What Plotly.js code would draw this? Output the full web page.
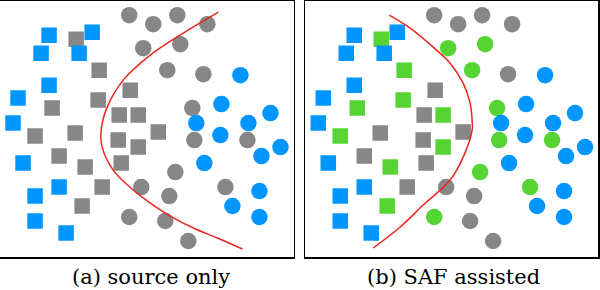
<!DOCTYPE html>
<html>
<head>
<meta charset="utf-8">
<script src="https://cdn.plot.ly/plotly-3.0.1.min.js"></script>
<style>html,body{margin:0;padding:0;background:#fff;}#chart{width:600px;height:290px;}</style>
</head>
<body>
<div id="chart"></div>
<script>
// Embedding coordinates (shared by both panels)
const sourceSquaresX = [49, 92, 41, 79, 49, 18, 13, 23, 35, 59, 35, 66];
const sourceSquaresY = [222, 225, 204, 204, 172, 159, 134, 94, 61, 70, 36, 24];
const targetSquaresX = [76, 99, 52, 98, 130, 138, 119, 35, 75, 59, 118, 121, 102, 158, 85, 82, 138];
const targetSquaresY = [218, 187, 149, 157, 167, 142, 142, 121, 124, 101, 117, 94, 70, 125, 90, 51, 110];
const targetSquaresAligned = [1, 1, 1, 1, 0, 1, 0, 1, 0, 0, 0, 0, 0, 0, 1, 1, 1];
const sourceCirclesX = [240, 221, 270, 196, 248, 220, 280, 261, 204, 259, 232, 259];
const sourceCirclesY = [182, 153, 144, 134, 134, 122, 110, 101, 94, 66, 51, 40];
const targetCirclesX = [129, 153, 177, 207, 203, 141, 169, 165, 188, 143, 180, 167, 192, 129, 194, 247, 175, 225];
const targetCirclesY = [242, 233, 242, 233, 183, 70, 61, 36, 16, 209, 213, 187, 149, 40, 117, 117, 85, 70];
const targetCirclesAligned = [0, 0, 0, 0, 0, 0, 0, 0, 0, 1, 1, 1, 1, 1, 1, 1, 1, 1];
// Decision boundaries
const boundaryAX = [218, 183, 150, 123, 107, 101, 102, 113, 133, 150, 170, 193, 217, 242];
const boundaryAY = [245, 224, 202, 177, 150, 127, 110, 87, 67, 54, 41, 29, 19, 8];
const boundaryBX = [84, 105, 128, 145, 158, 165, 167, 167, 158, 145, 118, 95, 68];
const boundaryBY = [242, 229, 210, 194, 174, 154, 137, 127, 100, 77, 52, 30, 9];
const captions = ["(a) source only", "(b) SAF assisted"];

const BLUE = "#0096ff", GRAY = "#878787", GREEN = "#56d433", RED = "#e8261e";

function pick(arr, flags, v) { return arr.filter((_, i) => flags[i] === v); }
function pts(x, y, sym, color, size, xa, ya) {
  return {type: "scatter", mode: "markers", x: x, y: y, xaxis: xa, yaxis: ya,
    marker: {symbol: sym, color: color, size: size, line: {width: 0}}, hoverinfo: "skip"};
}
const SQ = 15.5, CI = 16.5;
const traces = [
  // panel a: no alignment
  pts(targetSquaresX, targetSquaresY, "square", GRAY, SQ, "x", "y"),
  pts(targetCirclesX, targetCirclesY, "circle", GRAY, CI, "x", "y"),
  pts(sourceSquaresX, sourceSquaresY, "square", BLUE, SQ, "x", "y"),
  pts(sourceCirclesX, sourceCirclesY, "circle", BLUE, CI, "x", "y"),
  {type: "scatter", mode: "lines", x: boundaryAX, y: boundaryAY, xaxis: "x", yaxis: "y",
    line: {color: RED, width: 1.5, shape: "spline"}, hoverinfo: "skip"},
  // panel b: SAF assisted
  pts(pick(targetSquaresX, targetSquaresAligned, 0), pick(targetSquaresY, targetSquaresAligned, 0), "square", GRAY, SQ, "x2", "y2"),
  pts(pick(targetCirclesX, targetCirclesAligned, 0), pick(targetCirclesY, targetCirclesAligned, 0), "circle", GRAY, CI, "x2", "y2"),
  pts(pick(targetSquaresX, targetSquaresAligned, 1), pick(targetSquaresY, targetSquaresAligned, 1), "square", GREEN, SQ, "x2", "y2"),
  pts(pick(targetCirclesX, targetCirclesAligned, 1), pick(targetCirclesY, targetCirclesAligned, 1), "circle", GREEN, CI, "x2", "y2"),
  pts(sourceSquaresX, sourceSquaresY, "square", BLUE, SQ, "x2", "y2"),
  pts(sourceCirclesX, sourceCirclesY, "circle", BLUE, CI, "x2", "y2"),
  {type: "scatter", mode: "lines", x: boundaryBX, y: boundaryBY, xaxis: "x2", yaxis: "y2",
    line: {color: RED, width: 1.5, shape: "spline"}, hoverinfo: "skip"}
];

const W = 600, H = 290;
const axBase = {showgrid: false, zeroline: false, showticklabels: false, ticks: "",
  showline: true, linecolor: "#000", linewidth: 1.5, fixedrange: true};
const yDom = [(H - 257) / H, (H - 1.2) / H];
const capFont = {family: "DejaVu Serif", size: 21, color: "#000"};
const layout = {
  width: W, height: H, margin: {l: 0, r: 0, t: 0, b: 0},
  paper_bgcolor: "#fff", plot_bgcolor: "#fff", showlegend: false,
  xaxis: Object.assign({}, axBase, {domain: [0, 293.5 / W], range: [0, 293], mirror: true, anchor: "y"}),
  yaxis: Object.assign({}, axBase, {domain: yDom, range: [0, 256], side: "right", mirror: false, anchor: "x"}),
  xaxis2: Object.assign({}, axBase, {domain: [305.3 / W, 598 / W], range: [0, 293], mirror: true, anchor: "y2"}),
  yaxis2: Object.assign({}, axBase, {domain: yDom, range: [0, 256], mirror: true, anchor: "x2"}),
  annotations: [
    {text: captions[0], xref: "paper", yref: "paper", x: 151 / W, y: (H - 277) / H,
      xanchor: "center", yanchor: "middle", showarrow: false, font: capFont},
    {text: captions[1], xref: "paper", yref: "paper", x: 453 / W, y: (H - 277) / H,
      xanchor: "center", yanchor: "middle", showarrow: false, font: capFont}
  ]
};
Plotly.newPlot("chart", traces, layout, {staticPlot: true, displayModeBar: false});
</script>
</body>
</html>
